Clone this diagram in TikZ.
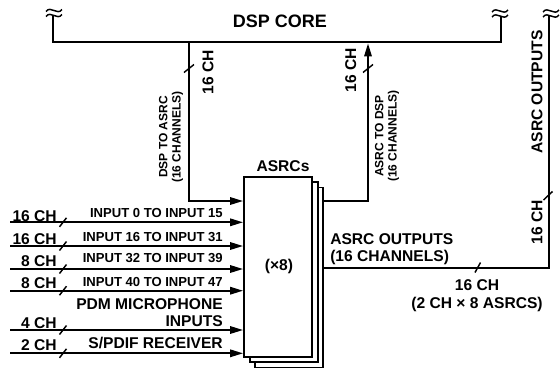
\documentclass[tikz,border=0pt]{standalone}
\usepackage{fontspec}
\setmainfont{Liberation Sans}
\usetikzlibrary{arrows.meta}
\begin{document}
\begin{tikzpicture}[x=0.75pt,y=-0.75pt, line join=miter,
  wire/.style={line width=1.5pt},
  arr/.style={wire,-{Triangle[length=9.75pt,width=5.5pt]}},
  tick/.style={line width=1.1pt},
  brk/.style={line width=1.1pt},
  box/.style={draw, line width=1.3pt, fill=white, minimum width=51pt, minimum height=135pt, inner sep=0pt},
  big/.style={font=\fontsize{11.7}{13}\selectfont\bfseries, inner sep=0pt},
  small/.style={font=\fontsize{9.8}{11}\selectfont\bfseries, inner sep=0pt},
  tiny/.style={font=\fontsize{9}{10}\selectfont\bfseries, inner sep=0pt}]
\useasboundingbox (0,0) rectangle (560,369);

% stacked ASRC boxes
\node[box] (asrcC) at (289.2,277.5) {};
\node[box] (asrcB) at (283.7,272.3) {};
\node[box] (asrc) at (278,267) {};
\node[big, anchor=base] (asrclab) at (283,171.6) {ASRCs};
\node[big] (x8) at (279,266) {(×8)};

% DSP core
\node[font=\fontsize{13.5}{15}\selectfont\bfseries, inner sep=0pt] (core) at (280,21) {DSP CORE};
\coordinate (coreL) at (52.5,16);
\coordinate (coreLb) at (52.5,42);
\coordinate (coreRb) at (500.5,42);
\coordinate (coreR) at (500.5,16);
\coordinate (core1) at (189,42);
\coordinate (core2) at (368,42);
\draw[wire] (coreL) -- (coreLb) -- (coreRb) -- (coreR);

% break symbols
\foreach \cx/\cy in {54/10.5,54/15.5,500/11,500/16,551/11,551/16}
  \draw[brk, shift={(\cx,\cy)}] (-8,1) .. controls (-3,-5.5) and (3,5.5) .. (8,-1);

% DSP to ASRC
\coordinate (d2a) at (189,201);
\draw[arr] (core1) -- (d2a) -- (d2a -| asrc.west);
\draw[tick] (184,72.5) -- (194,64.5);
\node[big, rotate=90] (l1) at (208,72.5) {16 CH};
\node[tiny, rotate=90, align=center] (l2) at (171,137) {DSP TO ASRC\\(16 CHANNELS)};

% ASRC to DSP
\coordinate (a2d) at (368,201);
\draw[arr, shorten >=1pt] (a2d -| asrcC.east) -- (a2d) -- (core2);
\draw[tick] (363,72.5) -- (373,64.5);
\node[big, rotate=90] (l3) at (350.7,70) {16 CH};
\node[tiny, rotate=90, align=center] (l4) at (387,136) {ASRC TO DSP\\(16 CHANNELS)};

% ASRC outputs
\coordinate (outR) at (549,268);
\coordinate (outT) at (549,16);
\draw[wire] (outR -| asrcC.east) -- (outR) -- (outT);
\node[big, rotate=90] (l5) at (537,92) {ASRC OUTPUTS};
\draw[tick] (543.5,200) -- (552.5,191.5);
\node[big, rotate=90] (l6) at (537,222) {16 CH};
\draw[tick] (475,272.5) -- (480.5,262.5);
\node[big, align=center] (l7) at (477,295.5) {16 CH\\(2 CH × 8 ASRCS)};
\node[big, align=left, anchor=west] (l8) at (330,249) {ASRC OUTPUTS\\(16 CHANNELS)};

% inputs
\foreach \n/\y/\ch/\by in {1/222.3/16 CH/221.3, 2/246/16 CH/244.5, 3/269/8 CH/266.5, 4/290.7/8 CH/288.5, 5/330/4 CH/328.5, 6/353.3/2 CH/350}{
  \coordinate (in\n) at (10,\y);
  \draw[arr] (in\n) -- (in\n -| asrc.west);
  \draw[tick] (59.5,\y+4.5) -- (66.5,\y-4.5);
  \node[big, anchor=base east] (ch\n) at (57,\by) {\ch};
}
\node[small, anchor=base east] (n1) at (223,217.5) {INPUT 0 TO INPUT 15};
\node[small, anchor=base east] (n2) at (223,241.3) {INPUT 16 TO INPUT 31};
\node[small, anchor=base east] (n3) at (223,262.7) {INPUT 32 TO INPUT 39};
\node[small, anchor=base east] (n4) at (223,286.4) {INPUT 40 TO INPUT 47};
\node[big, anchor=east, align=right] (n5) at (223,312.5) {PDM MICROPHONE\\INPUTS};
\node[big, anchor=base east] (n6) at (223,348.6) {S/PDIF RECEIVER};
\end{tikzpicture}
\end{document}
